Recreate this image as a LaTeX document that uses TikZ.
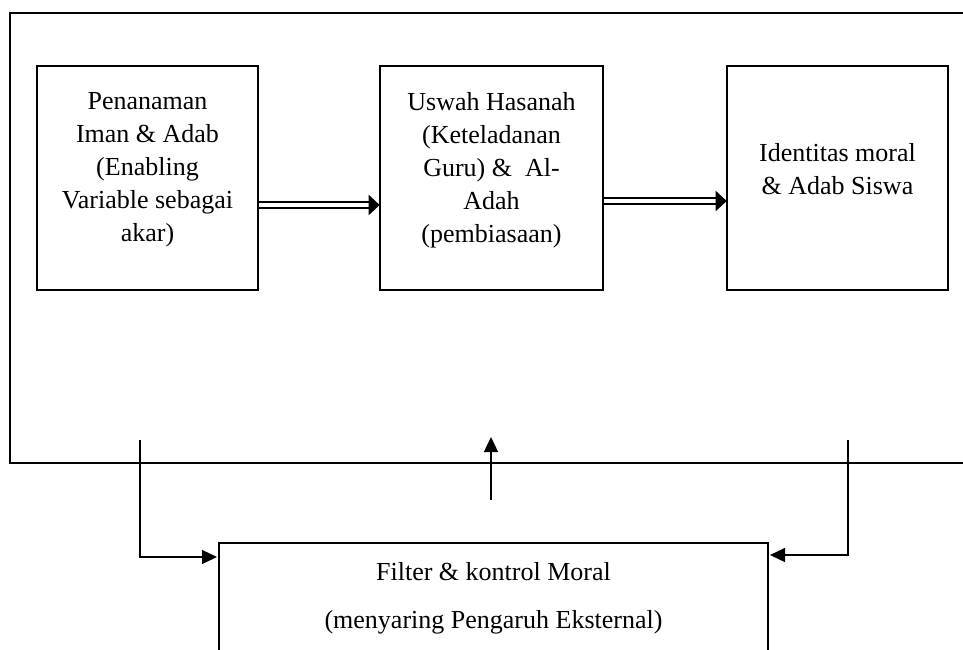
\documentclass[tikz,border=0pt]{standalone}
\usepackage{fontspec}
\setmainfont{Liberation Serif}
\usetikzlibrary{arrows.meta}
\begin{document}
\begin{tikzpicture}[x=1pt,y=-1pt,
  box/.style={draw, line width=2.6pt, minimum width=221pt, minimum height=224pt, inner sep=0pt},
  txt/.style={align=center, inner sep=0pt, font=\fontsize{26}{33}\selectfont},
  frame/.style={line width=2.6pt},
  dbl/.style={double, double distance=4pt, line width=2pt, -{Triangle[length=11pt,width=20pt]}, shorten >=-1pt},
  conn/.style={line width=1.3pt, -{Triangle[length=15pt,width=14pt]}}
]
\useasboundingbox (0,0) rectangle (963,649);
% outer frame
\coordinate (ftr) at (966,13);
\coordinate (ftl) at (10,13);
\coordinate (fbl) at (10,463);
\coordinate (fbr) at (966,463);
\draw[frame] (ftr) -- (ftl) -- (fbl) -- (fbr);
% boxes
\node[box] (b1) at (147.5,178) {};
\node[box, minimum width=223pt] (b2) at (491.5,178) {};
\node[box] (b3) at (837.5,178) {};
\node[txt] (t1) at (147.5,170) {Penanaman\\Iman \& Adab\\(Enabling\\Variable sebagai\\akar)};
\node[txt] (t2) at (491.5,170) {Uswah Hasanah\\(Keteladanan\\Guru) \&\ \ Al-\\Adah\\(pembiasaan)};
\node[txt] (t3) at (837.5,169) {Identitas moral\\\& Adab Siswa};
% double arrows
\draw[dbl] ([yshift=-27pt]b1.east) -- ([yshift=-27pt]b2.west);
\draw[dbl] ([yshift=-23pt]b2.east) -- ([yshift=-23pt]b3.west);
% bottom box
\coordinate (fl) at (219,653);
\coordinate (ftl2) at (219,543);
\coordinate (ftr2) at (768,543);
\coordinate (fr) at (768,653);
\draw[line width=2.6pt] (fl) -- (ftl2) -- (ftr2) -- (fr);
\node[txt, anchor=base] (f1) at (493.5,580) {Filter \& kontrol Moral};
\node[txt, anchor=base] (f2) at (493.5,628) {(menyaring Pengaruh Eksternal)};
% connectors
\coordinate (ls) at (140,440);
\coordinate (lt) at (140,557);
\coordinate (le) at (217,557);
\draw[conn] (ls) -- (lt) -- (le);
\coordinate (rs) at (848,440);
\coordinate (rt) at (848,555);
\coordinate (re) at (770,555);
\draw[conn] (rs) -- (rt) -- (re);
\coordinate (ms) at (491,500);
\coordinate (me) at (491,437);
\draw[conn] (ms) -- (me);
\end{tikzpicture}
\end{document}
